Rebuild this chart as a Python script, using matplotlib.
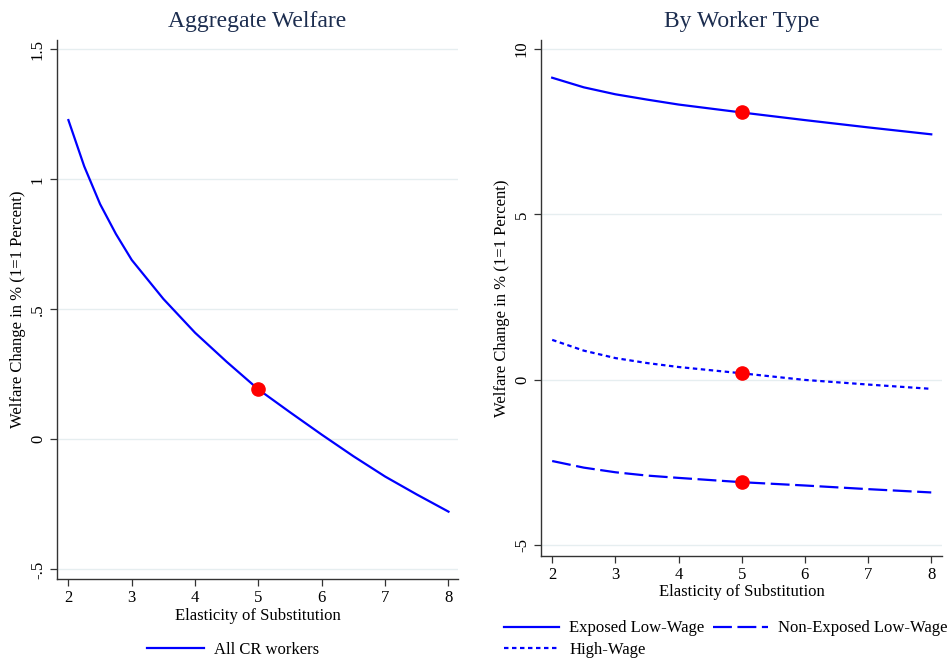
import matplotlib
matplotlib.use("Agg")
import matplotlib.pyplot as plt
from matplotlib.lines import Line2D

# ---------------- data ----------------
x_left = [2, 2.25, 2.5, 2.75, 3, 3.5, 4, 4.5, 5, 5.5, 6, 6.5, 7, 7.5, 8]
all_cr = [1.228, 1.05, 0.905, 0.79, 0.69, 0.54, 0.41, 0.298, 0.192, 0.104,
          0.018, -0.065, -0.143, -0.212, -0.278]

x_right = [2, 2.5, 3, 3.5, 4, 5, 6, 7, 8]
exposed_low = [9.13, 8.84, 8.63, 8.47, 8.32, 8.08, 7.85, 7.63, 7.42]
high_wage = [1.21, 0.885, 0.66, 0.51, 0.39, 0.20, 0.0, -0.14, -0.27]
nonexposed_low = [-2.45, -2.65, -2.79, -2.89, -2.96, -3.09, -3.19, -3.30, -3.40]

baseline_x = 5
baseline_left = [0.192]
baseline_right = [8.08, 0.20, -3.09]

xticks = [2, 3, 4, 5, 6, 7, 8]
left_yticks = [-0.5, 0, 0.5, 1, 1.5]
left_yticklabels = ["-.5", "0", ".5", "1", "1.5"]
right_yticks = [-5, 0, 5, 10]
right_yticklabels = ["-5", "0", "5", "10"]

# ---------------- style ----------------
plt.rcParams['font.family'] = ['Liberation Serif', 'DejaVu Serif']
BLUE = '#0000ff'
RED = '#ff0000'
GRID = '#e6eef0'
TITLE_C = '#1c2d4f'
FS = 12

fig = plt.figure(figsize=(9.51, 6.6), dpi=100)
axL = fig.add_axes([57/951, 1-579/660, 401/951, 539/660])
axR = fig.add_axes([541/951, 1-556/660, 401/951, 516/660])

def style(ax):
    for s in ['top', 'right']:
        ax.spines[s].set_visible(False)
    for s in ['left', 'bottom']:
        ax.spines[s].set_color('#333333')
        ax.spines[s].set_linewidth(1.0)
    ax.tick_params(axis='both', direction='out', length=5, width=0.9,
                   color='#333333', labelsize=FS, pad=3)
    ax.grid(axis='y', color=GRID, linewidth=1.0)
    ax.set_axisbelow(True)
    ax.set_xticks(xticks)
    ax.set_xlabel('Elasticity of Substitution', fontsize=FS, labelpad=1)
    ax.set_ylabel('Welfare Change in % (1=1 Percent)', fontsize=FS, labelpad=3)
    for lab in ax.get_yticklabels():
        lab.set_rotation(90)
        lab.set_va('center')

# Left panel
axL.plot(x_left, all_cr, color=BLUE, lw=1.6, label='All CR workers')
axL.plot([baseline_x], baseline_left, 'o', color=RED, ms=9.5, zorder=5)
axL.set_xlim(1.82, 8.15)
axL.set_ylim(-0.537, 1.536)
axL.set_yticks(left_yticks)
axL.set_yticklabels(left_yticklabels)
style(axL)
axL.set_title('Aggregate Welfare', fontsize=17, color=TITLE_C, pad=9)

# Right panel
l1, = axR.plot(x_right, exposed_low, color=BLUE, lw=1.6, label='Exposed Low-Wage')
l2, = axR.plot(x_right, nonexposed_low, color=BLUE, lw=1.6, dashes=(8.5, 2.5),
               label='Non-Exposed Low-Wage')
l3, = axR.plot(x_right, high_wage, color=BLUE, lw=1.6, dashes=(2.0, 1.6),
               label='High-Wage')
axR.plot([baseline_x] * 3, baseline_right, 'o', color=RED, ms=9.5, zorder=5,
         linestyle='none')
axR.set_xlim(1.823, 8.17)
axR.set_ylim(-5.32, 10.27)
axR.set_yticks(right_yticks)
axR.set_yticklabels(right_yticklabels)
style(axR)
axR.set_title('By Worker Type', fontsize=17, color=TITLE_C, pad=9)

# Legends
fig.legend(handles=[Line2D([], [], color=BLUE, lw=1.6)], labels=['All CR workers'],
           loc='center', bbox_to_anchor=(233/951, 1-650/660), frameon=False,
           fontsize=FS, handlelength=3.4, handletextpad=0.6)
fig.legend(handles=[l1, l3, l2],
           labels=['Exposed Low-Wage', 'High-Wage', 'Non-Exposed Low-Wage'],
           ncol=2, loc='center', bbox_to_anchor=(726/951, 1-639/660), frameon=False,
           fontsize=FS, handlelength=3.3, handletextpad=0.6, columnspacing=0.5,
           labelspacing=0.3)

fig.savefig('out.png', dpi=100, facecolor='white')
